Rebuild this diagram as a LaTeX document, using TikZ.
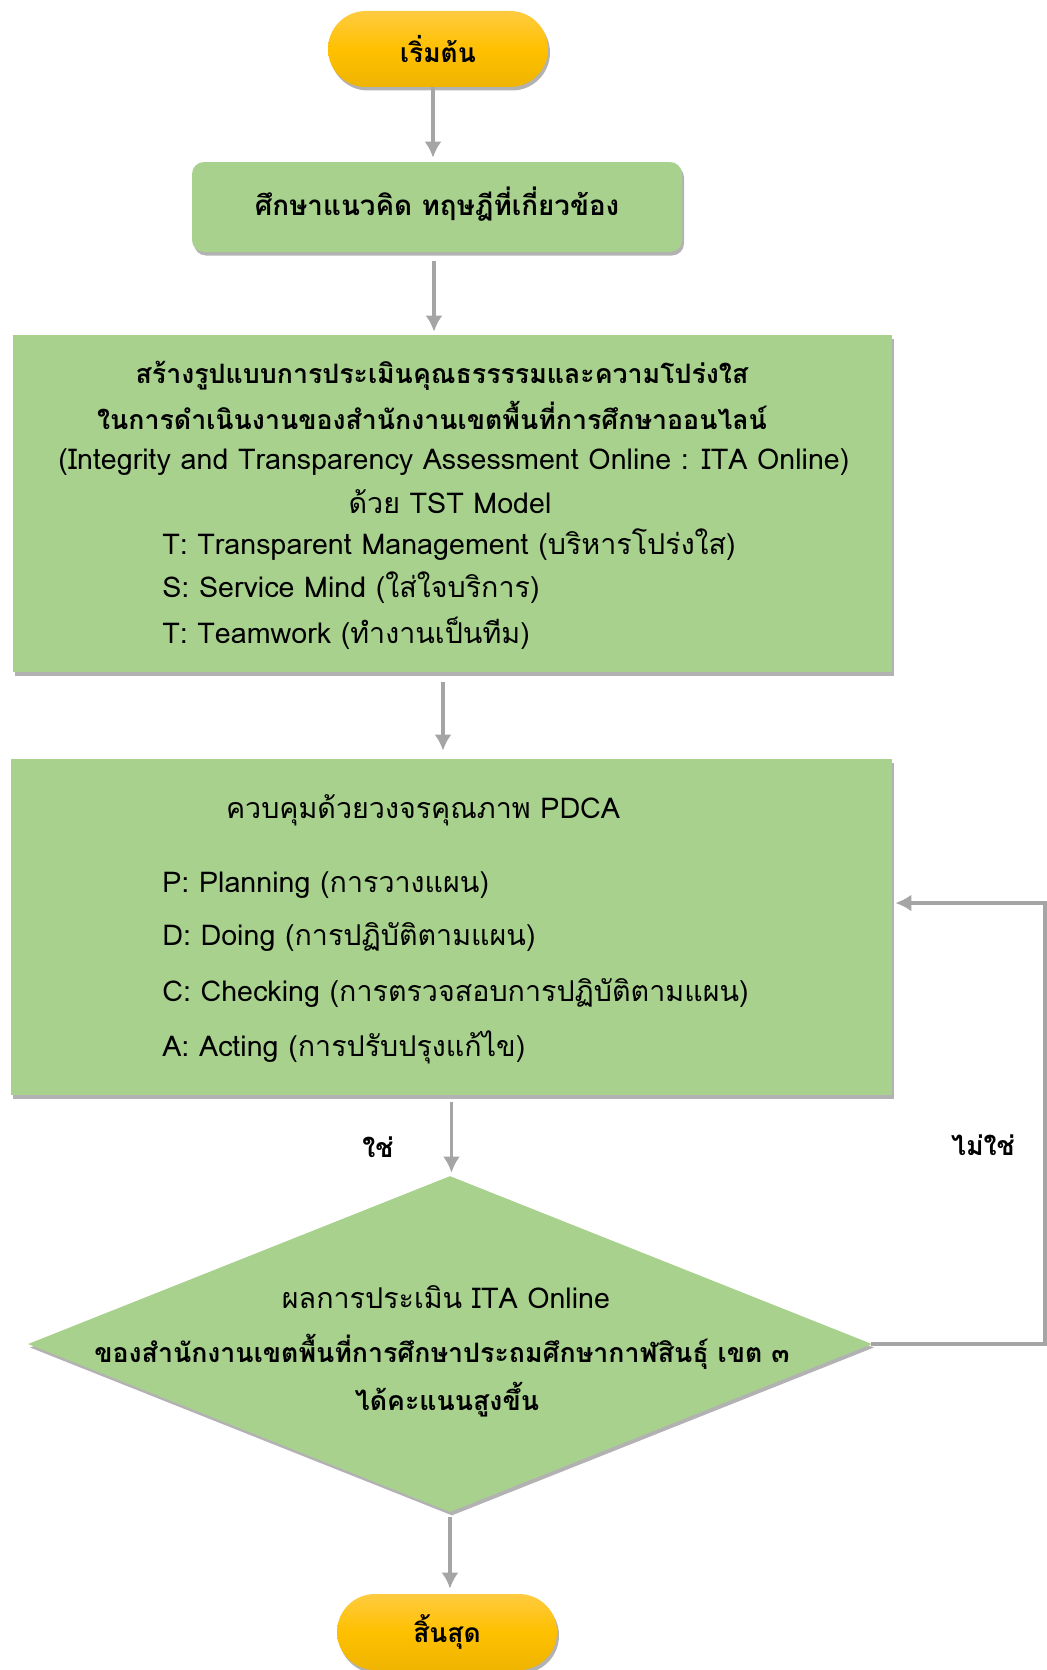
\documentclass[tikz,border=0pt]{standalone}
\usepackage{fontspec}
\setmainfont[Script=Thai]{Loma}
\usepackage{tikz}
\usetikzlibrary{calc,arrows.meta,shapes.geometric,shadows}

\definecolor{termmid}{HTML}{FFC000}
\definecolor{termtop}{HTML}{FFCB40}
\definecolor{termbot}{HTML}{EEB400}
\definecolor{boxgreen}{HTML}{A9D18E}
\definecolor{flowgray}{HTML}{A5A5A5}

\tikzset{
  softshadow/.style={drop shadow={shadow xshift=0.04cm,shadow yshift=-0.07cm,fill=black,opacity=0.3}},
  terminal/.style={rectangle,rounded corners=0.76cm,minimum width=4.4cm,minimum height=1.52cm,
    top color=termtop,bottom color=termbot,middle color=termmid,softshadow,
    font=\bfseries\fontsize{15}{18}\selectfont},
  stepbox/.style={rectangle,fill=boxgreen,softshadow,inner sep=0pt},
  txt/.style={inner sep=0pt,font=\fontsize{16.3}{19}\selectfont},
  btxt/.style={inner sep=0pt,font=\bfseries\fontsize{15.2}{18}\selectfont},
  flow/.style={draw=flowgray,line width=2.2pt,-{Latex[length=0.32cm,width=0.34cm]}}
}

\begin{document}
\begin{tikzpicture}
  \useasboundingbox (0,0) rectangle (20.94,-33.4);

  % start / end
  \node[terminal](start)at(8.76,-0.98){เริ่มต้น};
  \node[terminal](stop)at(8.94,-32.64){สิ้นสุด};

  % study box
  \node[stepbox,rounded corners=0.24cm,minimum width=9.8cm,minimum height=1.8cm](study)at(8.74,-4.14){};
  \node[btxt,font=\bfseries\fontsize{15.8}{18}\selectfont](studytxt)at(8.74,-4.08){ศึกษาแนวคิด ทฤษฎีที่เกี่ยวข้อง};

  % model box
  \node[stepbox,minimum width=17.58cm,minimum height=6.74cm](model)at(9.05,-10.07){};
  \node[btxt](modelA)at(8.84,-7.52){สร้างรูปแบบการประเมินคุณธรรรรมและความโปร่งใส};
  \node[btxt](modelB)at(8.64,-8.3){ในการดำเนินงานของสำนักงานเขตพื้นที่การศึกษาออนไลน์};
  \node[txt](modelC)at(9.08,-9.24){(Integrity and Transparency Assessment Online : ITA Online)};
  \node[txt](modelD)at(9.0,-10.04){ด้วย TST Model};
  \node[txt,anchor=west](modelT)at(3.24,-10.9){T: Transparent Management (บริหารโปร่งใส)};
  \node[txt,anchor=west](modelS)at(3.24,-11.76){S: Service Mind (ใส่ใจบริการ)};
  \node[txt,anchor=west](modelW)at(3.24,-12.66){T: Teamwork (ทำงานเป็นทีม)};

  % PDCA box
  \node[stepbox,minimum width=17.62cm,minimum height=6.72cm](pdca)at(9.03,-18.54){};
  \node[txt](pdcatitle)at(8.46,-16.2){ควบคุมด้วยวงจรคุณภาพ PDCA};
  \node[txt,anchor=west](pdcaP)at(3.24,-17.7){P: Planning (การวางแผน)};
  \node[txt,anchor=west](pdcaD)at(3.24,-18.74){D: Doing (การปฏิบัติตามแผน)};
  \node[txt,anchor=west](pdcaC)at(3.24,-19.86){C: Checking (การตรวจสอบการปฏิบัติตามแผน)};
  \node[txt,anchor=west](pdcaA)at(3.24,-20.94){A: Acting (การปรับปรุงแก้ไข)};

  % decision
  \node[diamond,fill=boxgreen,softshadow,inner sep=0pt,minimum width=16.88cm,minimum height=6.72cm](check)at(9.0,-26.88){};
  \node[txt](checkA)at(8.92,-25.94){ผลการประเมิน ITA Online};
  \node[btxt](checkB)at(8.84,-27.04){ของสำนักงานเขตพื้นที่การศึกษาประถมศึกษากาฬสินธุ์ เขต ๓};
  \node[btxt](checkC)at(8.94,-28.0){ได้คะแนนสูงขึ้น};

  \node[btxt](yes)at(7.56,-22.94){ใช่};
  \node[btxt](no)at(19.66,-22.9){ไม่ใช่};
  \coordinate(loop)at(20.9,-18.06);

  % connectors
  \draw[flow,shorten >=0.08cm]([xshift=-0.1cm]start.south)--([xshift=-0.1cm]start.south |- study.north);
  \draw[flow,shorten <=0.18cm,shorten >=0.06cm]([xshift=-0.06cm]study.south)--([xshift=-0.06cm]study.south |- model.north);
  \draw[flow,shorten <=0.2cm,shorten >=0.16cm]([xshift=-0.19cm]model.south)--([xshift=-0.19cm]model.south |- pdca.north);
  \draw[flow,shorten <=0.14cm,shorten >=0.06cm](pdca.south)--(pdca.south |- check.north);
  \draw[flow,shorten <=0.1cm,shorten >=0.1cm](check.south)--(check.south |- stop.north);
  \draw[flow,-,line width=1.8pt,line cap=rect](check.east)-|(loop);
  \draw[flow,line width=1.8pt,shorten >=0.06cm](loop)--(loop -| pdca.east);
\end{tikzpicture}
\end{document}
